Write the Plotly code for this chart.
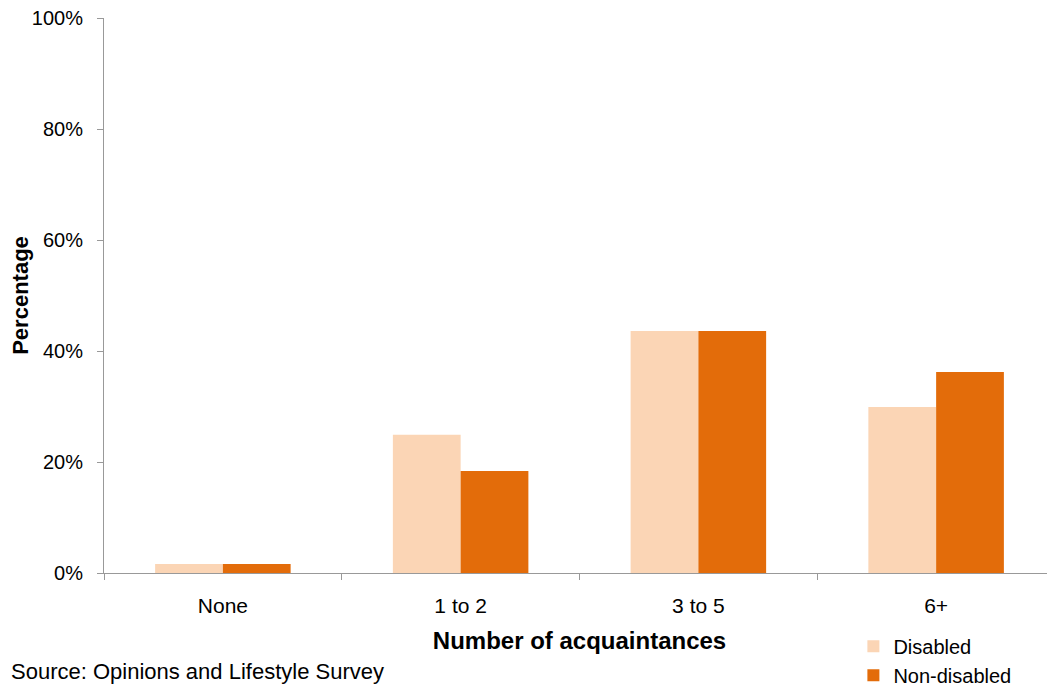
import plotly.graph_objects as go

categories = ["None", "1 to 2", "3 to 5", "6+"]
disabled = [1.6, 24.9, 43.6, 29.9]
non_disabled = [1.6, 18.4, 43.6, 36.2]
y_ticks = [0, 20, 40, 60, 80, 100]
y_tick_labels = ["0%", "20%", "40%", "60%", "80%", "100%"]

FONT = "Liberation Sans, Arial, sans-serif"

fig = go.Figure()
fig.add_trace(go.Bar(x=categories, y=disabled, name="Disabled",
                     marker=dict(color="#FBD5B5", line=dict(width=0))))
fig.add_trace(go.Bar(x=categories, y=non_disabled, name="Non-disabled",
                     marker=dict(color="#E36C0A", line=dict(width=0))))

# page body has an 8px default margin, so the figure is sized to fit the window
fig.update_layout(
    width=1047, height=680,
    paper_bgcolor="white", plot_bgcolor="white",
    margin=dict(l=96, r=0, t=10, b=115, autoexpand=False),
    barmode="group", bargap=0.43, bargroupgap=0,
    font=dict(family=FONT, size=20, color="black"),
    showlegend=True,
    legend=dict(x=0.788, y=-0.097, xanchor="left", yanchor="top",
                font=dict(family=FONT, size=20), itemwidth=30,
                tracegroupgap=0, bgcolor="rgba(0,0,0,0)"),
    xaxis=dict(showline=True, linecolor="#999999", linewidth=1,
               ticks="outside", ticklen=6, tickcolor="#999999",
               tickson="boundaries", showgrid=False, automargin=False,
               ticklabelstandoff=14, ticklabeloverflow="allow",
               tickfont=dict(family=FONT, size=21),
               title=dict(text="<b>Number of acquaintances</b>",
                          font=dict(family=FONT, size=24), standoff=15)),
    yaxis=dict(range=[0, 100], tickvals=y_ticks, ticktext=y_tick_labels,
               showline=True, linecolor="#999999", linewidth=1,
               ticks="outside", ticklen=6, tickcolor="#999999",
               showgrid=False, zeroline=False, automargin=False,
               ticklabelstandoff=10, ticklabeloverflow="allow",
               tickfont=dict(family=FONT, size=20),
               title=dict(text="<b>Percentage</b>",
                          font=dict(family=FONT, size=22),
                          standoff=0)),
    annotations=[dict(text="Source: Opinions and Lifestyle Survey",
                      xref="paper", yref="paper", x=-0.0999, y=-0.178,
                      xanchor="left", yanchor="middle", showarrow=False,
                      font=dict(family=FONT, size=22))],
)

fig.write_html("out.html")
